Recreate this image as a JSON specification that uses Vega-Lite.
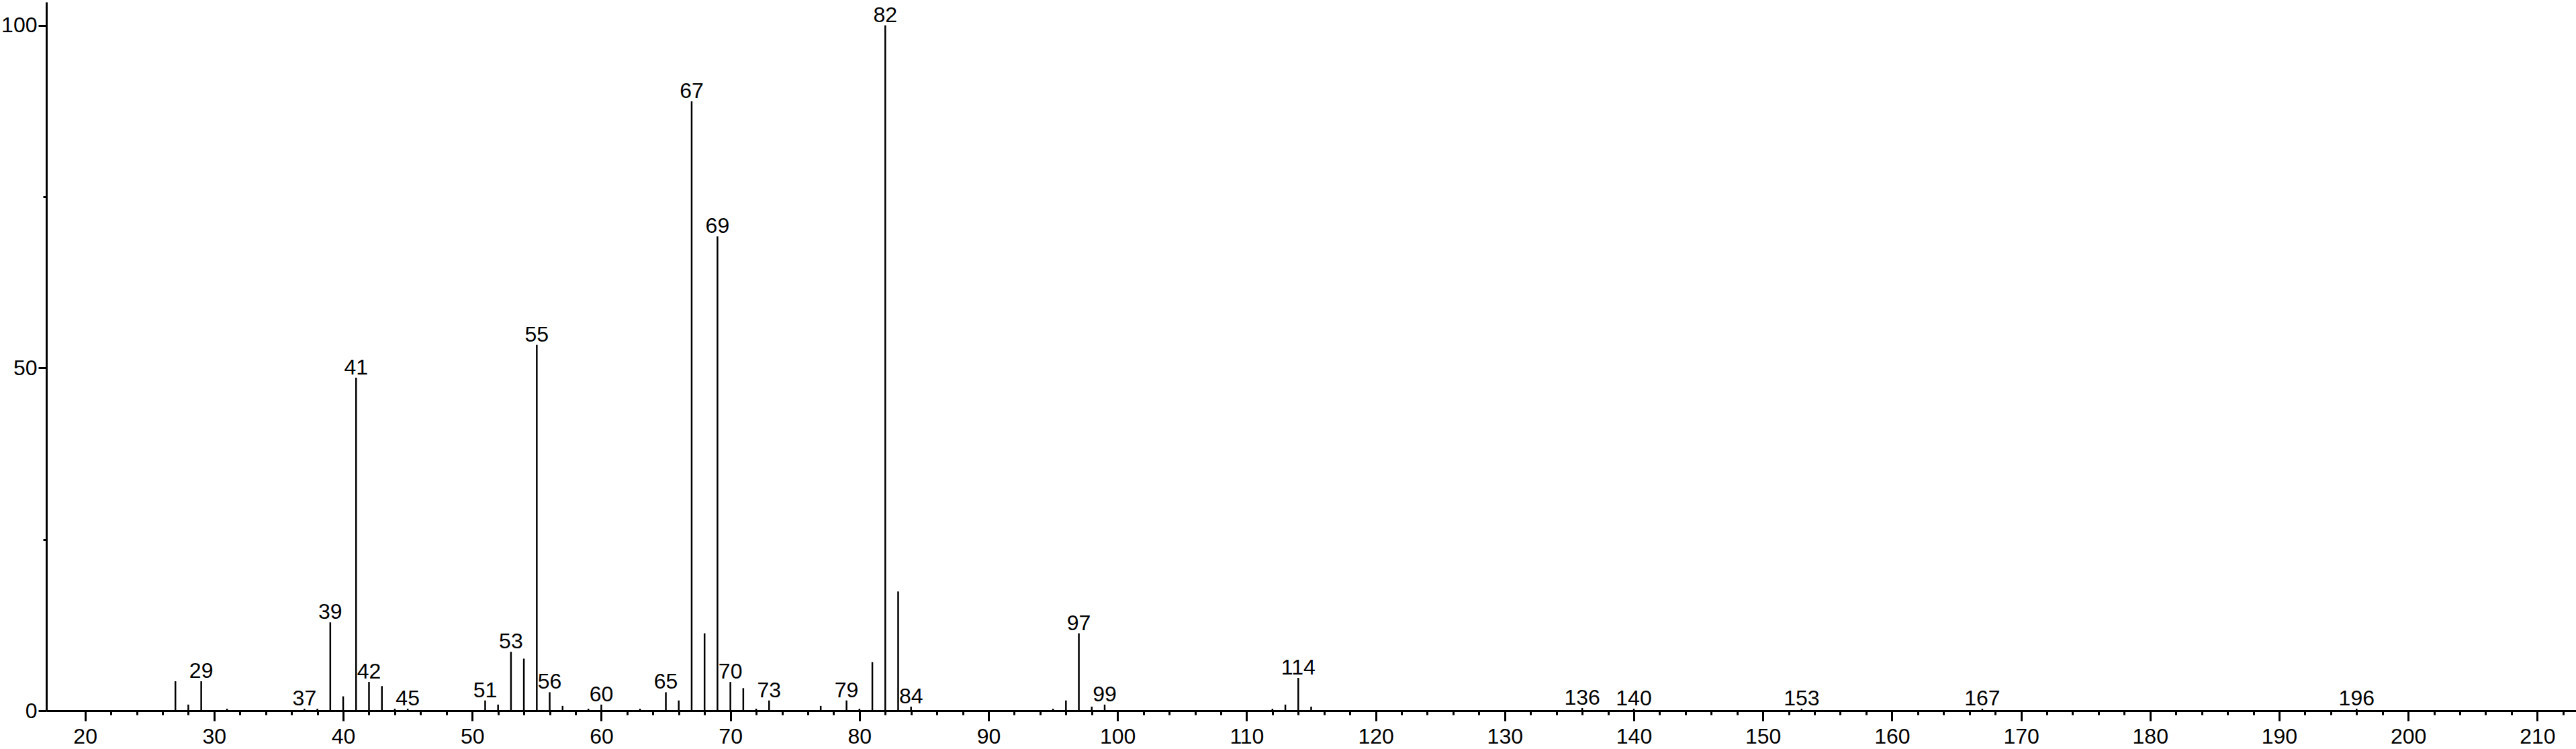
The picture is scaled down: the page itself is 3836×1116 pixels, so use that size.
{
  "$schema": "https://vega.github.io/schema/vega-lite/v6.json",
  "width": 3767,
  "height": 1056,
  "autosize": "none",
  "padding": {"left": 69, "top": 3, "right": 0, "bottom": 57},
  "background": "white",
  "config": {
    "view": {"stroke": null},
    "font": "Liberation Sans",
    "axis": {"domainColor": "black", "domainWidth": 3, "tickColor": "black", "tickWidth": 3, "labelColor": "black", "labelFont": "Liberation Sans", "labelFontSize": 32, "grid": false, "title": null}
  },
  "data": {
    "values": [
      {"mz": 27, "intensity": 4.3, "label": null},
      {"mz": 28, "intensity": 0.9, "label": null},
      {"mz": 29, "intensity": 4.3, "label": "29"},
      {"mz": 31, "intensity": 0.3, "label": null},
      {"mz": 37, "intensity": 0.3, "label": "37"},
      {"mz": 38, "intensity": 0.3, "label": null},
      {"mz": 39, "intensity": 12.9, "label": "39"},
      {"mz": 40, "intensity": 2.1, "label": null},
      {"mz": 41, "intensity": 48.6, "label": "41"},
      {"mz": 42, "intensity": 4.2, "label": "42"},
      {"mz": 43, "intensity": 3.6, "label": null},
      {"mz": 44, "intensity": 0.3, "label": null},
      {"mz": 45, "intensity": 0.3, "label": "45"},
      {"mz": 51, "intensity": 1.5, "label": "51"},
      {"mz": 52, "intensity": 0.9, "label": null},
      {"mz": 53, "intensity": 8.6, "label": "53"},
      {"mz": 54, "intensity": 7.6, "label": null},
      {"mz": 55, "intensity": 53.4, "label": "55"},
      {"mz": 56, "intensity": 2.7, "label": "56"},
      {"mz": 57, "intensity": 0.7, "label": null},
      {"mz": 59, "intensity": 0.3, "label": null},
      {"mz": 60, "intensity": 0.9, "label": "60"},
      {"mz": 63, "intensity": 0.3, "label": null},
      {"mz": 65, "intensity": 2.7, "label": "65"},
      {"mz": 66, "intensity": 1.5, "label": null},
      {"mz": 67, "intensity": 88.9, "label": "67"},
      {"mz": 68, "intensity": 11.3, "label": null},
      {"mz": 69, "intensity": 69.2, "label": "69"},
      {"mz": 70, "intensity": 4.2, "label": "70"},
      {"mz": 71, "intensity": 3.3, "label": null},
      {"mz": 72, "intensity": 0.3, "label": null},
      {"mz": 73, "intensity": 1.5, "label": "73"},
      {"mz": 77, "intensity": 0.7, "label": null},
      {"mz": 79, "intensity": 1.5, "label": "79"},
      {"mz": 80, "intensity": 0.3, "label": null},
      {"mz": 81, "intensity": 7.1, "label": null},
      {"mz": 82, "intensity": 100, "label": "82"},
      {"mz": 83, "intensity": 17.4, "label": null},
      {"mz": 84, "intensity": 0.6, "label": "84"},
      {"mz": 95, "intensity": 0.3, "label": null},
      {"mz": 96, "intensity": 1.5, "label": null},
      {"mz": 97, "intensity": 11.3, "label": "97"},
      {"mz": 98, "intensity": 0.6, "label": null},
      {"mz": 99, "intensity": 0.9, "label": "99"},
      {"mz": 112, "intensity": 0.3, "label": null},
      {"mz": 113, "intensity": 0.9, "label": null},
      {"mz": 114, "intensity": 4.8, "label": "114"},
      {"mz": 115, "intensity": 0.6, "label": null},
      {"mz": 136, "intensity": 0.4, "label": "136"},
      {"mz": 140, "intensity": 0.3, "label": "140"},
      {"mz": 153, "intensity": 0.3, "label": "153"},
      {"mz": 167, "intensity": 0.3, "label": "167"},
      {"mz": 196, "intensity": 0.3, "label": "196"}
    ]
  },
  "encoding": {
    "x": {
      "field": "mz",
      "type": "quantitative",
      "scale": {"domain": [17, 213], "nice": false, "zero": false},
      "axis": {
        "values": [20,22,24,26,28,30,32,34,36,38,40,42,44,46,48,50,52,54,56,58,60,62,64,66,68,70,72,74,76,78,80,82,84,86,88,90,92,94,96,98,100,102,104,106,108,110,112,114,116,118,120,122,124,126,128,130,132,134,136,138,140,142,144,146,148,150,152,154,156,158,160,162,164,166,168,170,172,174,176,178,180,182,184,186,188,190,192,194,196,198,200,202,204,206,208,210,212],
        "labelExpr": "datum.value % 10 === 0 ? datum.label : ''",
        "labelOverlap": false,
        "tickSize": {"condition": {"test": "datum.value % 10 === 0", "value": 15}, "value": 6},
        "labelPadding": 8
      }
    },
    "y": {
      "field": "intensity",
      "type": "quantitative",
      "scale": {"domain": [0, 103.4], "nice": false},
      "axis": {
        "values": [0, 25, 50, 75, 100],
        "labelExpr": "datum.value % 50 === 0 ? datum.label : ''",
        "labelOverlap": false,
        "tickSize": {"condition": {"test": "datum.value % 50 === 0", "value": 12}, "value": 5},
        "labelPadding": 2
      }
    }
  },
  "layer": [
    {
      "mark": {"type": "rule", "color": "black", "strokeWidth": 2.5},
      "encoding": {"y2": {"datum": 0}}
    },
    {
      "transform": [{"filter": "datum.label != null"}],
      "mark": {"type": "text", "baseline": "alphabetic", "align": "center", "dy": -5, "fontSize": 32, "font": "Liberation Sans", "color": "black"},
      "encoding": {"text": {"field": "label"}}
    }
  ]
}
